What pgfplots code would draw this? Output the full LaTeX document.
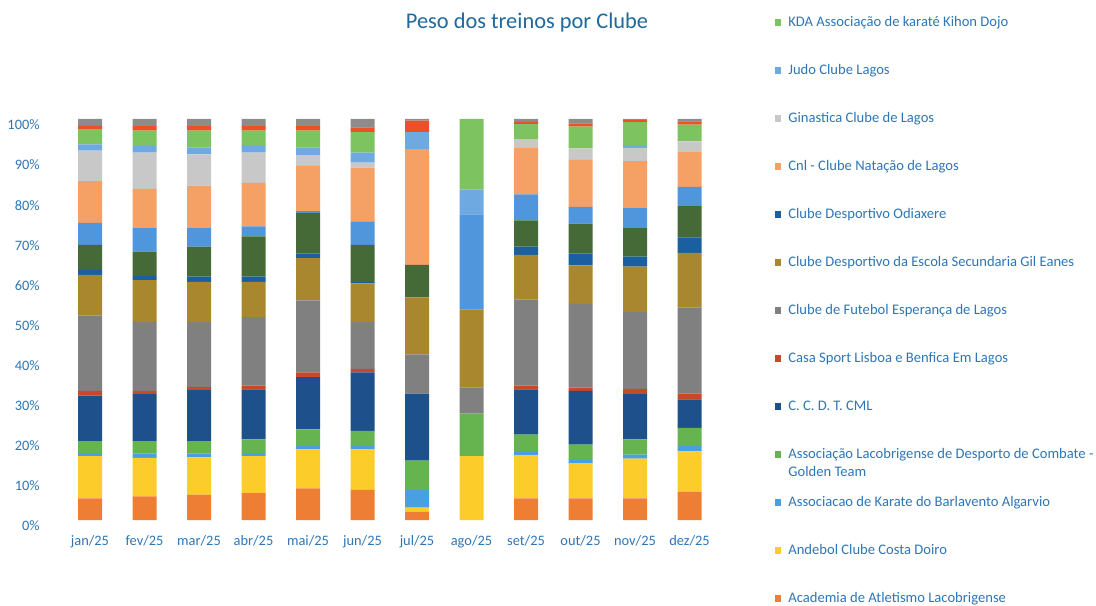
\documentclass[border=0pt]{standalone}
\usepackage{fontspec}
\setmainfont{Carlito}
\usepackage{pgfplots}
\pgfplotsset{compat=1.18}
\usepackage{pgfplotstable}

\definecolor{cAca}{RGB}{238,126,52}
\definecolor{cAnd}{RGB}{252,204,42}
\definecolor{cKar}{RGB}{73,160,225}
\definecolor{cLac}{RGB}{102,180,80}
\definecolor{cCcd}{RGB}{30,80,140}
\definecolor{cCsl}{RGB}{200,72,42}
\definecolor{cFut}{RGB}{128,128,128}
\definecolor{cEsc}{RGB}{168,135,46}
\definecolor{cOdi}{RGB}{26,95,160}
\definecolor{cDgr}{RGB}{70,106,55}
\definecolor{cBlu}{RGB}{80,150,220}
\definecolor{cCnl}{RGB}{245,160,100}
\definecolor{cGin}{RGB}{200,200,200}
\definecolor{cJud}{RGB}{110,170,225}
\definecolor{cKda}{RGB}{125,195,95}
\definecolor{cRed}{RGB}{235,80,40}
\definecolor{cGry}{RGB}{140,140,140}
\definecolor{txtblue}{RGB}{46,117,182}
\definecolor{titleblue}{RGB}{31,105,155}

% peso (%) de cada clube por mes
\pgfplotstableread{
x  aca  and  kar lac  ccd  csl fut  esc  odi dgr  blu  cnl  gin jud kda  red gry
0  5.4  10.5 0.8 3.0  11.3 1.2 18.8 10.1 1.2 6.3  5.5  10.4 7.6 1.6 3.8  0.8 1.7
1  5.9  9.6  1.1 3.1  11.7 0.8 17.2 10.4 1.0 6.1  5.9  9.8  9.0 1.7 3.8  1.1 1.8
2  6.3  9.3  1.0 3.1  12.7 0.8 16.2 10.0 1.3 7.5  4.6  10.6 7.8 1.7 4.2  1.1 1.8
3  6.7  9.2  0.8 3.4  12.5 0.9 17.1 8.8  1.3 10.0 2.5  10.9 7.5 1.7 3.8  1.1 1.8
4  7.9  9.7  0.8 4.2  13.0 1.2 18.0 10.5 1.1 10.2 0.4  11.3 2.7 1.9 4.2  1.1 1.8
5  7.5  10.1 0.8 3.8  14.6 0.9 11.7 9.6  0.4 9.2  5.9  13.4 1.2 2.5 5.1  1.2 2.1
6  2.1  1.0  4.4 7.3  16.7 0   9.8  14.2 0   8.1  0    28.9 0   4.2 0    2.9 0.4
7  0    15.9 0   10.6 0    0   6.6  19.4 0   0    23.7 0    0   6.2 17.6 0   0
8  5.4  10.8 1.0 4.1  11.3 0.9 21.5 11.1 2.1 6.5  6.5  11.7 2.1 0   3.7  0.6 0.7
9  5.4  8.8  0.8 3.8  13.4 0.8 20.9 9.6  2.9 7.5  4.2  11.7 2.9 0   5.4  0.8 1.1
10 5.4  9.9  1.0 3.8  11.3 1.3 19.2 11.3 2.5 7.1  5.0  11.7 3.3 0.5 5.9  0.5 0.3
11 7.1  10.0 1.3 4.6  7.1  1.4 21.5 13.6 3.9 7.8  4.8  8.8  2.5 0   4.2  0.8 0.6
}\treinos

\begin{document}
\begin{tikzpicture}
\begin{axis}[
    at={(0,0)}, anchor=south west,
    scale only axis, width=327pt, height=200.5pt,
    ybar stacked, bar width=12pt,
    xmin=-0.5, xmax=11.5, ymin=0, ymax=100,
    xtick={0,...,11},
    xticklabels={jan/25,fev/25,mar/25,abr/25,mai/25,jun/25,jul/25,ago/25,set/25,out/25,nov/25,dez/25},
    ytick={0,10,...,100},
    yticklabels={0\%,10\%,20\%,30\%,40\%,50\%,60\%,70\%,80\%,90\%,100\%},
    axis line style={draw=none}, major tick style={draw=none},
    ticklabel style={font=\fontsize{7.2}{8.5}\selectfont, text=txtblue},
    yticklabel style={xshift=-8pt, yshift=-3pt},
    xticklabel style={yshift=-4pt},
    title={Peso dos treinos por Clube},
    title style={at={(axis description cs:0.7099,1.2095)}, anchor=center,
                 font=\fontsize{11.2}{13}\selectfont, text=titleblue},
    legend image code/.code={\fill[#1,draw=none] (0pt,0.4pt) rectangle (3.2pt,3.6pt);},
    reverse legend,
    legend style={at={(axis description cs:1.089,1.2556)}, anchor=north west,
                  draw=none, fill=none, inner sep=0pt, outer sep=0pt,
                  row sep=0pt, column sep=3.5pt,
                  font=\fontsize{7.3}{8.9}\selectfont, text=txtblue,
                  cells={anchor=base west},
                  nodes={inner sep=0pt, text height=5pt, text depth=19pt}},
    every axis plot/.append style={draw=none},
]
\addplot[fill=cAca] table[x=x,y=aca] {\treinos};
\addlegendentry{Academia de Atletismo Lacobrigense}
\addplot[fill=cAnd] table[x=x,y=and] {\treinos};
\addlegendentry{Andebol Clube Costa Doiro}
\addplot[fill=cKar] table[x=x,y=kar] {\treinos};
\addlegendentry{Associacao de Karate do Barlavento Algarvio}
\addplot[fill=cLac] table[x=x,y=lac] {\treinos};
\addlegendentry{\parbox[t]{160pt}{Associação Lacobrigense de Desporto de Combate -\\Golden Team}}
\addplot[fill=cCcd] table[x=x,y=ccd] {\treinos};
\addlegendentry{C. C. D. T. CML}
\addplot[fill=cCsl] table[x=x,y=csl] {\treinos};
\addlegendentry{Casa Sport Lisboa e Benfica Em Lagos}
\addplot[fill=cFut] table[x=x,y=fut] {\treinos};
\addlegendentry{Clube de Futebol Esperança de Lagos}
\addplot[fill=cEsc] table[x=x,y=esc] {\treinos};
\addlegendentry{Clube Desportivo da Escola Secundaria Gil Eanes}
\addplot[fill=cOdi] table[x=x,y=odi] {\treinos};
\addlegendentry{Clube Desportivo Odiaxere}
\addplot[fill=cDgr, forget plot] table[x=x,y=dgr] {\treinos};
\addplot[fill=cBlu, forget plot] table[x=x,y=blu] {\treinos};
\addplot[fill=cCnl] table[x=x,y=cnl] {\treinos};
\addlegendentry{Cnl - Clube Natação de Lagos}
\addplot[fill=cGin] table[x=x,y=gin] {\treinos};
\addlegendentry{Ginastica Clube de Lagos}
\addplot[fill=cJud] table[x=x,y=jud] {\treinos};
\addlegendentry{Judo Clube Lagos}
\addplot[fill=cKda] table[x=x,y=kda] {\treinos};
\addlegendentry{KDA Associação de karaté Kihon Dojo}
\addplot[fill=cRed, forget plot] table[x=x,y=red] {\treinos};
\addplot[fill=cGry, forget plot] table[x=x,y=gry] {\treinos};
\end{axis}
\pgfresetboundingbox
\path (-31.375pt,-42.5pt) rectangle (516.625pt,260pt);
\end{tikzpicture}
\end{document}
